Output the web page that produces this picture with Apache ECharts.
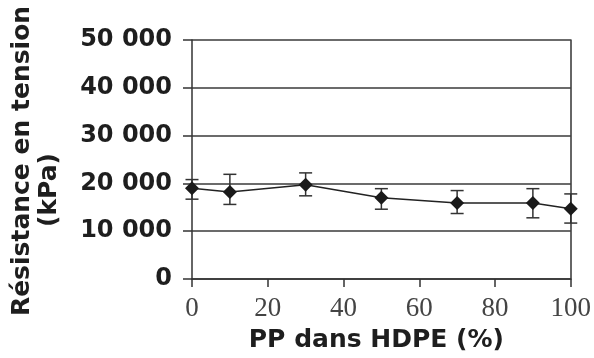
<!DOCTYPE html>
<html><head><meta charset="utf-8">
<script src="https://cdn.jsdelivr.net/npm/echarts@6/dist/echarts.min.js"></script>
<style>html,body{margin:0;padding:0;background:#fff}#c{width:594px;height:358px}</style>
</head><body><div id="c"></div>
<script>
const ppPercent = [0, 10, 30, 50, 70, 90, 100];
const strength  = [19000, 18200, 19700, 17000, 15900, 15900, 14700];
const errLow    = [16700, 15600, 17400, 14600, 13700, 12800, 11700];
const errHigh   = [20800, 21900, 22200, 18900, 18500, 18900, 17800];
const xTitle = 'PP dans HDPE (%)';
const yTitle1 = 'Résistance en tension';
const yTitle2 = '(kPa)';

const fmtK = v => String(v).replace(/\B(?=(\d{3})+(?!\d))/g, ' ');
const lineData = ppPercent.map((x, i) => [x, strength[i]]);
const errData = ppPercent.map((x, i) => [x, errLow[i], errHigh[i]]);

const chart = echarts.init(document.getElementById('c'), null, {renderer: 'canvas'});
chart.setOption({
  animation: false,
  backgroundColor: '#fff',
  grid: {left: 192, right: 23, top: 40, bottom: 78},
  xAxis: {
    type: 'value', min: 0, max: 100, interval: 20,
    name: xTitle, nameLocation: 'middle', nameGap: 49,
    nameTextStyle: {fontFamily: 'DejaVu Sans', fontWeight: 'bold', fontSize: 25, color: '#1e1e1e', padding: [0, 10, 0, 0]},
    axisLine: {show: true, onZero: false, lineStyle: {color: '#333', width: 1.5}},
    axisTick: {show: true, inside: false, length: 8, lineStyle: {color: '#333', width: 1.5}},
    axisLabel: {fontFamily: 'Liberation Serif', fontSize: 27, color: '#444', margin: 16},
    splitLine: {show: false}
  },
  yAxis: [{
    type: 'value', min: 0, max: 50000, interval: 10000,
    axisLine: {show: true, lineStyle: {color: '#333', width: 1.5}},
    axisTick: {show: true, inside: false, length: 9, lineStyle: {color: '#333', width: 1.5}},
    axisLabel: {fontFamily: 'DejaVu Sans', fontWeight: 'bold', fontSize: 24, color: '#1e1e1e', margin: 20, formatter: fmtK},
    splitLine: {show: true, lineStyle: {color: '#3a3a3a', width: 1.5}}
  }, {
    type: 'value', min: 0, max: 50000, interval: 10000, position: 'right',
    axisLine: {show: true, lineStyle: {color: '#333', width: 1.5}},
    axisTick: {show: false}, axisLabel: {show: false}, splitLine: {show: false}
  }],
  graphic: [
    {type: 'text', x: 22, y: 161, rotation: Math.PI / 2,
     style: {text: yTitle1, align: 'center', verticalAlign: 'middle', textAlign: 'center', textVerticalAlign: 'middle',
             font: 'bold 25px "DejaVu Sans"', fill: '#1e1e1e'}},
    {type: 'text', x: 49, y: 190, rotation: Math.PI / 2,
     style: {text: yTitle2, align: 'center', verticalAlign: 'middle', textAlign: 'center', textVerticalAlign: 'middle',
             font: 'bold 25px "DejaVu Sans"', fill: '#1e1e1e'}}
  ],
  series: [{
    type: 'custom',
    data: errData,
    z: 2,
    renderItem: function (params, api) {
      const x = api.value(0);
      const lo = api.coord([x, api.value(1)]);
      const hi = api.coord([x, api.value(2)]);
      const w = 6.5;
      const st = {stroke: '#333', lineWidth: 1.5};
      return {type: 'group', children: [
        {type: 'line', shape: {x1: lo[0], y1: lo[1], x2: hi[0], y2: hi[1]}, style: st},
        {type: 'line', shape: {x1: lo[0] - w, y1: lo[1], x2: lo[0] + w, y2: lo[1]}, style: st},
        {type: 'line', shape: {x1: hi[0] - w, y1: hi[1], x2: hi[0] + w, y2: hi[1]}, style: st}
      ]};
    }
  }, {
    type: 'line',
    data: lineData,
    z: 3,
    symbol: 'diamond', symbolSize: 14,
    itemStyle: {color: '#1a1a1a'},
    lineStyle: {color: '#222', width: 1.5}
  }]
});
</script>
</body></html>
